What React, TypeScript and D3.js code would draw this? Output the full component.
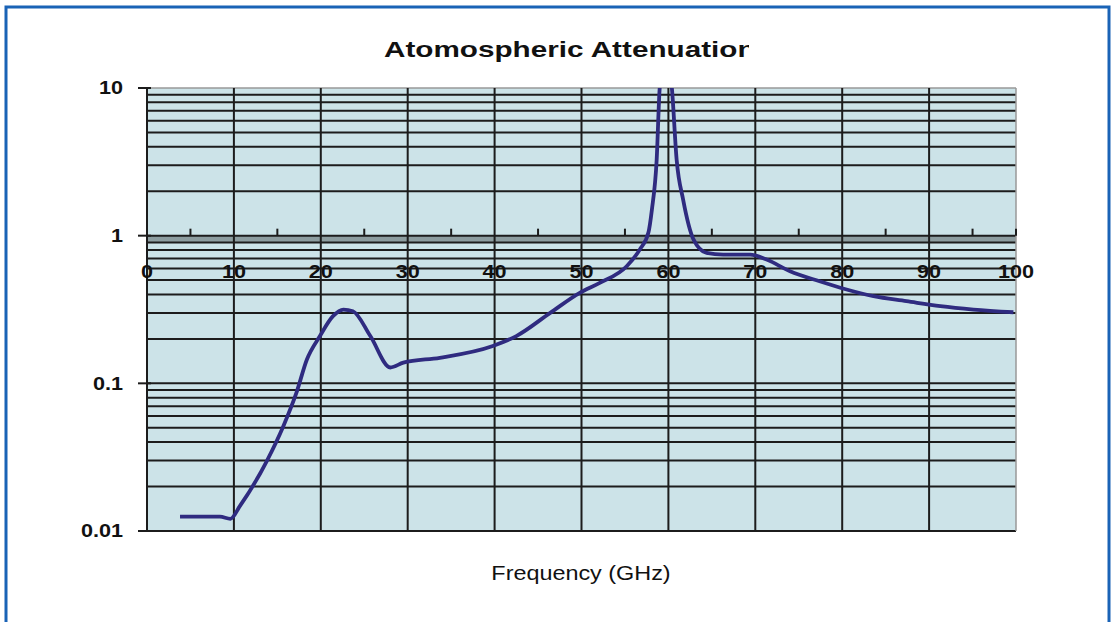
import React from "react";
import * as d3 from "d3";

const freqGHz = [3.8, 8.4, 9.6, 10.7, 13.8, 15.7, 17.2, 18.4, 19.9, 21.4, 22.6, 23.7, 25.7, 28.0, 29.5, 33.7, 39.8, 42.5, 46.4, 49.8, 52.1, 55.2, 56.7, 57.7, 58.1, 58.65, 59.0, 59.7, 60.4, 60.95, 61.7, 62.9, 64.4, 66.3, 69.4, 71.3, 74.0, 77.4, 80.5, 83.6, 87.4, 91.3, 95.1, 99.7];
const attenuation = [0.0125, 0.0125, 0.0121, 0.0148, 0.0299, 0.0515, 0.0865, 0.145, 0.209, 0.285, 0.316, 0.308, 0.209, 0.128, 0.138, 0.149, 0.179, 0.209, 0.30, 0.41, 0.479, 0.621, 0.804, 1.05, 1.5, 3.26, 10, 18, 10, 3.26, 1.75, 0.94, 0.764, 0.744, 0.744, 0.689, 0.574, 0.491, 0.432, 0.389, 0.36, 0.333, 0.316, 0.303];
const xTicks = [0, 10, 20, 30, 40, 50, 60, 70, 80, 90, 100];
const xMinorTicks = [5, 15, 25, 35, 45, 55, 65, 75, 85, 95, 100];
const yTicks = [10, 1, 0.1, 0.01];
const yTickLabels = ["10", "1", "0.1", "0.01"];
const title = "Atomospheric Attenuation";
const xTitle = "Frequency (GHz)";

const SX = 1.2;

export default function App() {
  const L = 147, R = 1016, T = 88, B = 531;
  const x = d3.scaleLinear().domain([0, 100]).range([L, R]);
  const y = d3.scaleLog().domain([0.01, 10]).range([B, T]);
  const minorY: number[] = [];
  [0.01, 0.1, 1].forEach((d) => {
    for (let k = 2; k <= 9; k++) minorY.push(d * k);
  });
  const pts = freqGHz.map((f, i) => [f, attenuation[i]] as [number, number]);
  const line = d3
    .line<[number, number]>()
    .x((d) => x(d[0]))
    .y((d) => y(d[1]))
    .curve(d3.curveMonotoneX);
  const font = "Arial, 'Liberation Sans', Helvetica, sans-serif";
  const grid = "#1c1c1c";
  return (
    <svg width={1117} height={622} style={{ position: "absolute", left: 0, top: 0 }} fontFamily={font}>
      <rect x={0} y={0} width={1117} height={622} fill="#ffffff" />
      <rect x={6} y={7} width={1103} height={640} fill="none" stroke="#1a63b6" strokeWidth={3} />
      <defs>
        <clipPath id="plotClip">
          <rect x={L} y={T} width={R - L} height={B - T} />
        </clipPath>
        <clipPath id="titleClip">
          <rect x={0} y={0} width={749} height={80} />
        </clipPath>
      </defs>
      <g clipPath="url(#titleClip)">
        <text transform={`translate(384,57) scale(1.32,1)`} fontSize={22.5} fontWeight="bold" fill="#111">
          {title}
        </text>
      </g>
      <rect x={L} y={T} width={R - L} height={B - T} fill="#cce3e8" />
      {/* grey band under the x axis */}
      <rect x={L} y={y(1)} width={R - L} height={y(0.9) - y(1)} fill="#8c9c9f" />
      {minorY.map((v, i) => (
        <line key={"hy" + i} x1={L} x2={R} y1={y(v)} y2={y(v)} stroke={grid} strokeWidth={2} />
      ))}
      {[0.1, 1].map((v, i) => (
        <line key={"hm" + i} x1={L} x2={R} y1={y(v)} y2={y(v)} stroke={grid} strokeWidth={2} />
      ))}
      <line x1={L} x2={R} y1={B} y2={B} stroke={grid} strokeWidth={2} />
      <line x1={L} x2={R} y1={T} y2={T} stroke="#999" strokeWidth={1.5} />
      {xTicks.slice(1, -1).map((t) => (
        <line key={"vx" + t} x1={x(t)} x2={x(t)} y1={T} y2={B} stroke={grid} strokeWidth={2} />
      ))}
      <line x1={R} x2={R} y1={T} y2={B} stroke="#999" strokeWidth={1.5} />
      <line x1={L} x2={L} y1={T} y2={B} stroke={grid} strokeWidth={2} />
      {yTicks.map((t) => (
        <line key={"yt" + t} x1={L - 9} x2={L + 4} y1={y(t)} y2={y(t)} stroke={grid} strokeWidth={2} />
      ))}
      {xMinorTicks.map((t) => (
        <line key={"xm" + t} x1={x(t)} x2={x(t)} y1={y(1) - 7} y2={y(1)} stroke={grid} strokeWidth={2} />
      ))}
      {yTicks.map((t, i) => (
        <text key={"yl" + t} transform={`translate(123,${y(t)}) scale(${SX},1)`} dy="0.36em" textAnchor="end" fontSize={18} fontWeight="bold" fill="#111">
          {yTickLabels[i]}
        </text>
      ))}
      {xTicks.map((t) => (
        <text key={"xl" + t} transform={`translate(${x(t)},272) scale(${SX},1)`} dy="0.36em" textAnchor="middle" fontSize={18} fontWeight="bold" fill="#111">
          {t}
        </text>
      ))}
      <path d={line(pts) || ""} fill="none" stroke="#2f2b80" strokeWidth={3.8} strokeLinejoin="round" clipPath="url(#plotClip)" />
      <text transform={`translate(581,580) scale(${SX},1)`} textAnchor="middle" fontSize={19.5} fill="#111">
        {xTitle}
      </text>
    </svg>
  );
}
